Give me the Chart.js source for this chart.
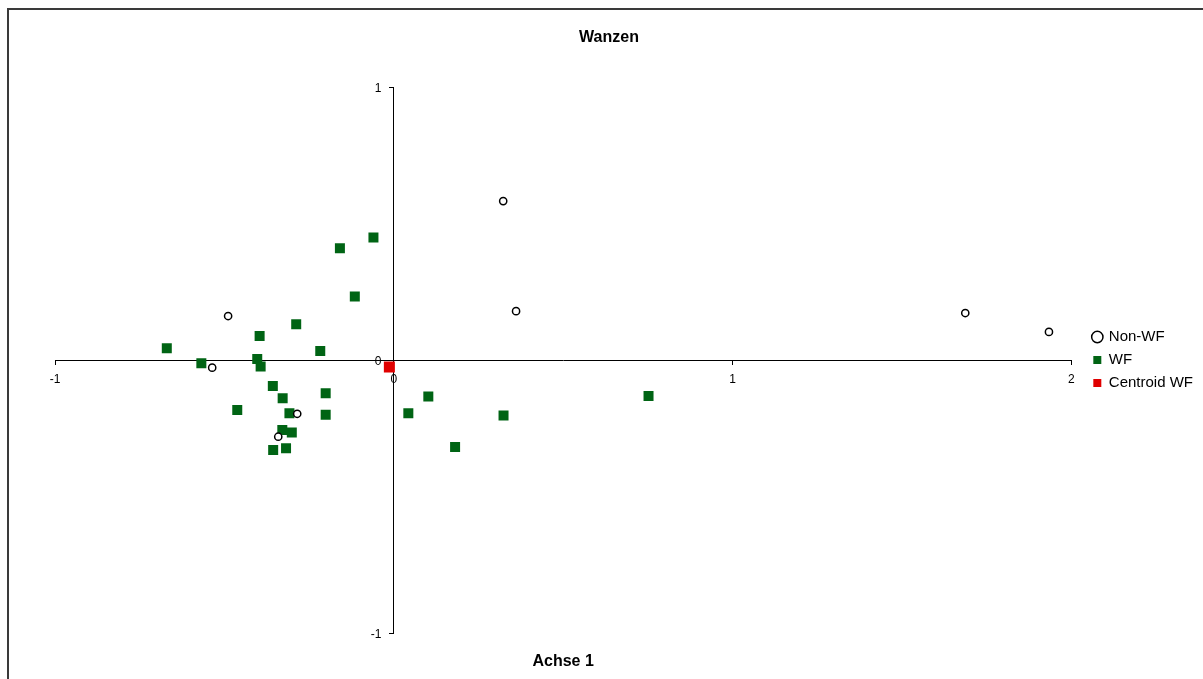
<!DOCTYPE html>
<html>

<head>
    <title>Wanzen</title>
    <script src="https://cdn.jsdelivr.net/npm/chart.js"></script>
    <style>
        body { margin: 0; background: #fff; overflow: hidden; }
        #frame { position: absolute; left: 7px; top: 8px; width: 1400px; height: 900px;
                 border-left: 2px solid #3a3a3a; border-top: 2px solid #3a3a3a; }
        #wrap { position: absolute; left: 0; top: 0; width: 1203px; height: 679px; }
    </style>
</head>

<body>
    <div id="frame"></div>
    <div id="wrap"><canvas id="chart"></canvas></div>
    <script>
        // ordination scores
        const nonWfX = [0.323, 0.361, 1.687, 1.934, -0.489, -0.536, -0.285, -0.341];
        const nonWfY = [0.582, 0.179, 0.172, 0.103, 0.161, -0.028, -0.197, -0.281];

        const wfX = [-0.060, -0.159, -0.115, -0.288, -0.396, -0.670, -0.217, -0.568, -0.403, -0.393,
            -0.357, -0.328, -0.201, -0.462, -0.308, -0.201, -0.329, -0.301, -0.356, -0.318,
            0.043, 0.102, 0.324, 0.752, 0.181];
        const wfY = [0.449, 0.409, 0.233, 0.131, 0.088, 0.043, 0.033, -0.012, 0.004, -0.024,
            -0.095, -0.140, -0.122, -0.183, -0.195, -0.201, -0.256, -0.266, -0.330, -0.323,
            -0.195, -0.134, -0.203, -0.132, -0.319];

        const centroidX = [-0.013];
        const centroidY = [-0.026];

        const xTicks = [-1, 0, 1, 2];
        const yTicks = [-1, 0, 1];

        const toPoints = (xs, ys) => xs.map((x, i) => ({ x: x, y: ys[i] }));

        Chart.defaults.font.family = '"Liberation Sans", Arial, sans-serif';
        Chart.defaults.color = '#000';

        // no offset is applied to y labels when the axis sits at x=0, so pad the text
        const yLabelGap = '   \u2009';

        const ctx = document.getElementById('chart');
        new Chart(ctx, {
            type: 'scatter',
            data: {
                datasets: [{
                    label: 'Non-WF',
                    data: toPoints(nonWfX, nonWfY),
                    pointStyle: 'circle',
                    pointRadius: 3.6,
                    backgroundColor: '#ffffff',
                    borderColor: '#000000',
                    borderWidth: 1.5
                }, {
                    label: 'WF',
                    data: toPoints(wfX, wfY),
                    pointStyle: 'rect',
                    pointRadius: 7.07,
                    backgroundColor: '#006414',
                    borderColor: '#006414',
                    borderWidth: 0
                }, {
                    label: 'Centroid WF',
                    data: toPoints(centroidX, centroidY),
                    pointStyle: 'rect',
                    pointRadius: 7.8,
                    backgroundColor: '#e00000',
                    borderColor: '#e00000',
                    borderWidth: 0
                }]
            },
            options: {
                responsive: true,
                maintainAspectRatio: false,
                animation: false,
                layout: { padding: { left: 15, right: 0, top: 0, bottom: 7.4 } },
                plugins: {
                    title: {
                        display: true,
                        text: 'Wanzen',
                        font: { size: 16, weight: 'bold' },
                        padding: { top: 28.4, bottom: 39.4 }
                    },
                    legend: {
                        position: 'right',
                        fullSize: false,
                        labels: {
                            usePointStyle: true,
                            boxWidth: 8,
                            boxHeight: 8,
                            padding: 8,
                            font: { size: 15 }
                        }
                    },
                    tooltip: { enabled: false }
                },
                scales: {
                    x: {
                        type: 'linear',
                        min: -1,
                        max: 2,
                        position: { y: 0 },
                        afterBuildTicks: axis => { axis.ticks = xTicks.map(v => ({ value: v })); },
                        ticks: { font: { size: 12 }, padding: 8 },
                        grid: { drawOnChartArea: false, drawTicks: true, tickLength: 4, color: '#000' },
                        border: { color: '#000', width: 1 }
                    },
                    y: {
                        type: 'linear',
                        min: -1,
                        max: 1,
                        position: { x: 0 },
                        afterBuildTicks: axis => { axis.ticks = yTicks.map(v => ({ value: v })); },
                        ticks: { font: { size: 12 }, labelOffset: 2, callback: v => v + yLabelGap },
                        grid: { drawOnChartArea: false, drawTicks: true, tickLength: 4, color: '#000' },
                        border: { color: '#000', width: 1 }
                    },
                    // bottom axis only carries the axis title
                    xTitle: {
                        type: 'linear',
                        position: 'bottom',
                        display: true,
                        min: -1,
                        max: 2,
                        ticks: { display: false },
                        grid: { display: false, drawTicks: false },
                        border: { display: false },
                        title: {
                            display: true,
                            text: 'Achse 1',
                            font: { size: 16, weight: 'bold' },
                            padding: { top: 19.4, bottom: 0 }
                        }
                    },
                    // spacers so the title sits centred on the whole frame
                    padLeft: {
                        type: 'linear',
                        position: 'left',
                        display: true,
                        ticks: { display: false },
                        grid: { display: false, drawTicks: false },
                        border: { display: false },
                        afterFit: s => { s.width = 40; }
                    },
                    padRight: {
                        type: 'linear',
                        position: 'right',
                        display: true,
                        ticks: { display: false },
                        grid: { display: false, drawTicks: false },
                        border: { display: false },
                        afterFit: s => { s.width = 14; }
                    }
                }
            }
        });
    </script>

</body>

</html>
